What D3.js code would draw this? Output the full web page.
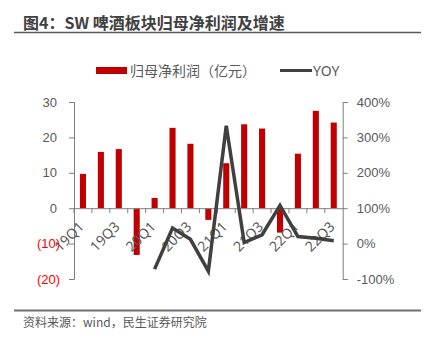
<!DOCTYPE html>
<html><head><meta charset="utf-8">
<script src="https://cdn.jsdelivr.net/npm/d3@7"></script>
<style>
body{margin:0;background:#fff;}
svg{display:block;font-family:"Noto Sans","Noto Sans CJK SC",sans-serif;}
</style></head>
<body>
<svg id="c" width="425" height="343"></svg>
<script>
const categories = ["19Q1","19Q2","19Q3","19Q4","20Q1","20Q2","20Q3","20Q4","21Q1","21Q2","21Q3","21Q4","22Q1","22Q2","22Q3"];
const profit = [9.7,15.9,16.7,-13.2,2.9,22.7,18.2,-3.3,12.7,23.7,22.5,-6.9,15.4,27.5,24.2];
const yoy = [null,null,null,null,-72,44,12,-78,333,3,25,108,20,15,8];
const leftTicks = [-20,-10,0,10,20,30];
const rightTicks = [-100,0,100,200,300,400];
const xLabels = ["19Q1","19Q3","20Q1","20Q3","21Q1","21Q3","22Q1","22Q3"];
const title = "图4：SW 啤酒板块归母净利润及增速";
const legendBar = "归母净利润（亿元）";
const legendLine = "YOY";
const source = "资料来源：wind，民生证券研究院";

const svg = d3.select("#c");
const L = 74, R = 342.7, T = 102, B = 279;
const x = d3.scaleBand().domain(categories).range([L, R]).padding(0);
const yL = d3.scaleLinear().domain([-20,30]).range([B,T]);
const yR = d3.scaleLinear().domain([-100,400]).range([B,T]);
const axisCol = "#7f7f7f", txtCol = "#595959";

// title
svg.append("text").attr("x",23).attr("y",29).attr("font-size",16).attr("font-weight","bold")
  .attr("fill","#404040").attr("font-family","'Noto Sans CJK SC',sans-serif").text(title);
svg.append("line").attr("x1",14).attr("x2",421).attr("y1",32.5).attr("y2",32.5)
  .attr("stroke","#595959").attr("stroke-width",1.5);

// legend
svg.append("rect").attr("x",96).attr("y",67).attr("width",31).attr("height",7).attr("fill","#c00000");
svg.append("text").attr("x",130).attr("y",75.5).attr("font-size",14).attr("fill",txtCol)
  .attr("font-family","'Noto Sans CJK SC',sans-serif").text(legendBar);
svg.append("line").attr("x1",280).attr("x2",312).attr("y1",70.5).attr("y2",70.5)
  .attr("stroke","#404040").attr("stroke-width",3);
svg.append("text").attr("x",313).attr("y",75.5).attr("font-size",14).attr("fill",txtCol).text(legendLine);

// bars
const bw = x.step()*0.34;
svg.append("g").selectAll("rect").data(categories).join("rect")
  .attr("x", (d)=>x(d)+x.bandwidth()/2-bw/2)
  .attr("width", bw)
  .attr("y", (d,i)=>yL(Math.max(0,profit[i])))
  .attr("height", (d,i)=>Math.abs(yL(profit[i])-yL(0)))
  .attr("fill","#c00000");

// left axis
const gl = svg.append("g").attr("transform",`translate(${L},0)`)
  .call(d3.axisLeft(yL).tickValues(leftTicks).tickSize(5).tickPadding(12)
    .tickFormat(d=> d<0 ? `(${Math.abs(d)})` : d));
gl.select(".domain").attr("stroke",axisCol);
gl.selectAll(".tick line").attr("stroke",axisCol);
gl.selectAll(".tick text").attr("font-size",13).attr("fill",d=>d<0?"#ff0000":txtCol)
  .attr("dx", d=>d<0?3:0);

// right axis
const gr = svg.append("g").attr("transform",`translate(${R},0)`)
  .call(d3.axisRight(yR).tickValues(rightTicks).tickSize(5).tickPadding(9).tickFormat(d=>d+"%"));
gr.select(".domain").attr("stroke",axisCol);
gr.selectAll(".tick line").attr("stroke",axisCol);
gr.selectAll(".tick text").attr("font-size",13).attr("fill",txtCol);

// zero line with category ticks
const gx = svg.append("g").attr("transform",`translate(0,${yL(0)})`)
  .call(d3.axisBottom(x).tickSize(0).tickFormat(""));
gx.select(".domain").attr("stroke",axisCol);
svg.append("g").selectAll("line").data(categories).join("line")
  .attr("x1",d=>x(d)).attr("x2",d=>x(d)).attr("y1",yL(0)).attr("y2",yL(0)+5)
  .attr("stroke",axisCol);

// x labels
svg.append("g").selectAll("text").data(xLabels).join("text")
  .attr("transform", d=>`translate(${x(d)+x.bandwidth()/2-1.5},${yL(0)+16}) rotate(-45)`)
  .attr("text-anchor","end").attr("dy","0.35em").attr("font-size",14).attr("fill",txtCol)
  .text(d=>d);

// YOY line
const line = d3.line().defined(d=>d[1]!=null)
  .x(d=>x(d[0])+x.bandwidth()/2).y(d=>yR(d[1]));
svg.append("path").datum(categories.map((c,i)=>[c,yoy[i]]))
  .attr("d",line).attr("fill","none").attr("stroke","#404040").attr("stroke-width",3.5)
  .attr("stroke-linejoin","miter");

// footer
svg.append("line").attr("x1",14).attr("x2",421).attr("y1",310.5).attr("y2",310.5)
  .attr("stroke","#6f6f6f").attr("stroke-width",2);
svg.append("text").attr("x",23).attr("y",327).attr("font-size",12).attr("fill",txtCol)
  .attr("font-family","'Noto Sans CJK SC',sans-serif").text(source);
</script>
</body></html>
